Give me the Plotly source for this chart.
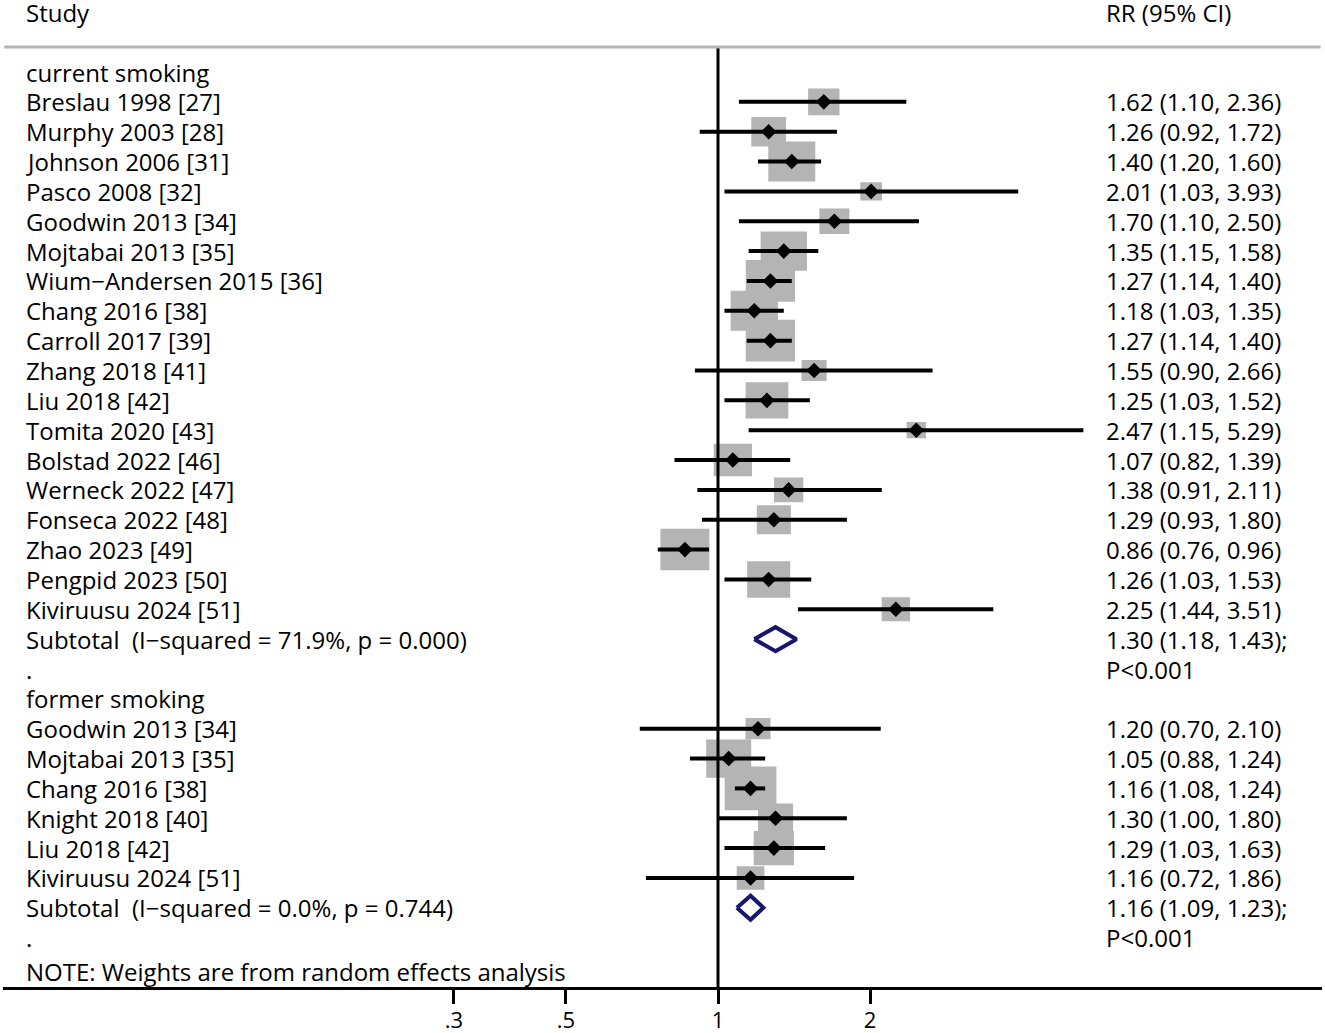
import math
import plotly.graph_objects as go

# ---------------- data ----------------
current_studies = ["Breslau 1998 [27]", "Murphy 2003 [28]", "Johnson 2006 [31]", "Pasco 2008 [32]",
                   "Goodwin 2013 [34]", "Mojtabai 2013 [35]", "Wium\u2212Andersen 2015 [36]",
                   "Chang 2016 [38]", "Carroll 2017 [39]", "Zhang 2018 [41]", "Liu 2018 [42]",
                   "Tomita 2020 [43]", "Bolstad 2022 [46]", "Werneck 2022 [47]", "Fonseca 2022 [48]",
                   "Zhao 2023 [49]", "Pengpid 2023 [50]", "Kiviruusu 2024 [51]"]
current_rr = [1.62, 1.26, 1.40, 2.01, 1.70, 1.35, 1.27, 1.18, 1.27, 1.55, 1.25, 2.47, 1.07, 1.38, 1.29, 0.86, 1.26, 2.25]
current_lo = [1.10, 0.92, 1.20, 1.03, 1.10, 1.15, 1.14, 1.03, 1.14, 0.90, 1.03, 1.15, 0.82, 0.91, 0.93, 0.76, 1.03, 1.44]
current_hi = [2.36, 1.72, 1.60, 3.93, 2.50, 1.58, 1.40, 1.35, 1.40, 2.66, 1.52, 5.29, 1.39, 2.11, 1.80, 0.96, 1.53, 3.51]
current_wt = [2.78, 3.41, 6.26, 1.33, 2.55, 6.07, 6.88, 6.34, 6.88, 1.77, 5.16, 1.05, 4.16, 2.43, 3.28, 6.80, 5.24, 2.27]
current_sub = [1.30, 1.18, 1.43]
current_sub_label = "Subtotal\u00a0 (I\u2212squared = 71.9%, p = 0.000)"

former_studies = ["Goodwin 2013 [34]", "Mojtabai 2013 [35]", "Chang 2016 [38]", "Knight 2018 [40]",
                  "Liu 2018 [42]", "Kiviruusu 2024 [51]"]
former_rr = [1.20, 1.05, 1.16, 1.30, 1.29, 1.16]
former_lo = [0.70, 0.88, 1.08, 1.00, 1.03, 0.72]
former_hi = [2.10, 1.24, 1.24, 1.80, 1.63, 1.86]
former_wt = [1.77, 5.74, 7.57, 3.47, 4.60, 2.17]
former_sub = [1.16, 1.09, 1.23]
former_sub_label = "Subtotal\u00a0 (I\u2212squared = 0.0%, p = 0.744)"

p_text = "P&lt;0.001"
tick_vals = [0.3, 0.5, 1, 2]
tick_text = [".3", ".5", "1", "2"]

# ---------------- layout geometry ----------------
W, H = 1325, 1033
ML, MR, MT, MB = 3, 3, 0, 46
PLOT_W = W - ML - MR
PLOT_H = H - MT - MB
PXDEC = 505.0
X_ONE_PX = 718 - ML
xa = -X_ONE_PX / PXDEC
xb = xa + PLOT_W / PXDEC
ROWPX = 29.85
Y0PX = 72
ytop = -(Y0PX - MT) / ROWPX
ybot = (PLOT_H - (Y0PX - MT)) / ROWPX

FONT = "Open Sans"
FS = 24
TICKFS = 22
BOXK = 18.8
BOX_ASPECT = 1.18
GRAY = "#b4b4b4"
NAVY = "#161670"

r = 1
cur_rows = []
for i in range(len(current_studies)):
    cur_rows.append(r)
    r += 1
cur_sub_row = r; r += 1
cur_dot_row = r; r += 1
former_head_row = r; r += 1
for_rows = []
for i in range(len(former_studies)):
    for_rows.append(r)
    r += 1
for_sub_row = r; r += 1
for_dot_row = r; r += 1
note_row = r + 0.15
header_row = -2.01
hline_row = -0.84

fig = go.Figure()

all_rr = current_rr + former_rr
all_lo = current_lo + former_lo
all_hi = current_hi + former_hi
all_wt = current_wt + former_wt
all_rows = cur_rows + for_rows

# weight boxes
bx, by = [], []
for rr, w, row in zip(all_rr, all_wt, all_rows):
    hw = BOXK * math.sqrt(w) / 2
    hh = hw / BOX_ASPECT
    dx = hw / PXDEC
    dy = hh / ROWPX
    xl, xr = rr * 10 ** (-dx), rr * 10 ** dx
    bx += [xl, xr, xr, xl, xl, None]
    by += [row - dy, row - dy, row + dy, row + dy, row - dy, None]
fig.add_trace(go.Scatter(x=bx, y=by, mode="lines", fill="toself", fillcolor=GRAY,
                         line=dict(width=0, color=GRAY), hoverinfo="skip", showlegend=False))

# null line at 1
fig.add_trace(go.Scatter(x=[1, 1], y=[hline_row, ybot], mode="lines",
                         line=dict(color="black", width=3), hoverinfo="skip", showlegend=False))

# CI lines
cx, cy = [], []
for lo, hi, row in zip(all_lo, all_hi, all_rows):
    cx += [lo, hi, None]
    cy += [row, row, None]
fig.add_trace(go.Scatter(x=cx, y=cy, mode="lines", line=dict(color="black", width=4),
                         hoverinfo="skip", showlegend=False))

# point estimates
fig.add_trace(go.Scatter(x=all_rr, y=all_rows, mode="markers",
                         marker=dict(symbol="diamond", size=12, color="black", line=dict(width=0)),
                         hoverinfo="skip", showlegend=False))

# subtotal diamonds
DH = 12.0 / ROWPX
for (est, lo, hi), row in [(current_sub, cur_sub_row), (former_sub, for_sub_row)]:
    fig.add_trace(go.Scatter(x=[lo, est, hi, est, lo], y=[row, row - DH, row, row + DH, row],
                             mode="lines", line=dict(color=NAVY, width=4),
                             fill="toself", fillcolor="white", hoverinfo="skip", showlegend=False))

# header line
fig.add_shape(type="line", xref="paper", yref="y", x0=0.001, x1=0.999, y0=hline_row, y1=hline_row,
              line=dict(color="#b4b4b4", width=3))

# texts
LX = (24 - ML) / PLOT_W
RX = (1104 - ML) / PLOT_W


def txt(x, y, s):
    fig.add_annotation(x=x, y=y, xref="paper", yref="y", text=s, showarrow=False,
                       xanchor="left", yanchor="middle", align="left",
                       font=dict(family=FONT, size=FS, color="black"))


txt(LX, header_row, "Study")
txt(RX, header_row, "RR (95% CI)")
txt(LX, 0, "current smoking")
for s, rr, lo, hi, row in zip(current_studies, current_rr, current_lo, current_hi, cur_rows):
    txt(LX, row, s)
    txt(RX, row, f"{rr:.2f} ({lo:.2f}, {hi:.2f})")
txt(LX, cur_sub_row, current_sub_label)
txt(RX, cur_sub_row, f"{current_sub[0]:.2f} ({current_sub[1]:.2f}, {current_sub[2]:.2f});")
txt(RX, cur_dot_row, p_text)
txt(LX, cur_dot_row, ".")
txt(LX, former_head_row, "former smoking")
for s, rr, lo, hi, row in zip(former_studies, former_rr, former_lo, former_hi, for_rows):
    txt(LX, row, s)
    txt(RX, row, f"{rr:.2f} ({lo:.2f}, {hi:.2f})")
txt(LX, for_sub_row, former_sub_label)
txt(RX, for_sub_row, f"{former_sub[0]:.2f} ({former_sub[1]:.2f}, {former_sub[2]:.2f});")
txt(RX, for_dot_row, p_text)
txt(LX, for_dot_row, ".")
txt(LX, note_row, "NOTE: Weights are from random effects analysis")

fig.update_layout(
    width=W, height=H,
    margin=dict(l=ML, r=MR, t=MT, b=MB, autoexpand=False),
    paper_bgcolor="white", plot_bgcolor="white",
    showlegend=False,
    xaxis=dict(type="log", range=[xa, xb], tickvals=tick_vals, ticktext=tick_text,
               ticks="outside", ticklen=14, tickwidth=3, tickcolor="black",
               ticklabelstandoff=-2,
               showline=True, linewidth=3, linecolor="black", showgrid=False, zeroline=False,
               automargin=False,
               tickfont=dict(family=FONT, size=TICKFS, color="black")),
    yaxis=dict(range=[ybot, ytop], visible=False, showgrid=False, zeroline=False, automargin=False),
)

fig.write_html("out.html", config={"displayModeBar": False},
               post_script="document.body.style.margin='0px';document.body.style.overflow='hidden';")
